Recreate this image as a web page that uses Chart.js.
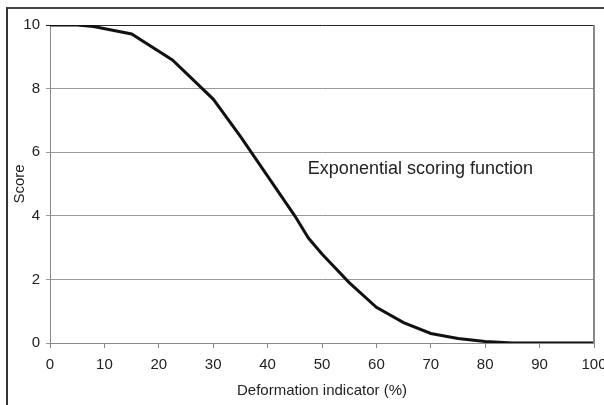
<!DOCTYPE html>
<html>
<head>
<meta charset="utf-8">
<script src="https://cdn.jsdelivr.net/npm/chart.js@4"></script>
<style>
    body { margin: 0; background: #fff; }
    #wrap { position: relative; width: 604px; height: 405px; overflow: hidden; background: #fff; }
    #frame { position: absolute; left: 6px; top: 7px; width: 700px; height: 500px;
             border-left: 2px solid #333; border-top: 2px solid #444; }
    canvas { position: absolute; left: 0; top: 0; }
</style>
</head>
<body>
<div id="wrap">
    <div id="frame"></div>
    <canvas id="chart1" width="604" height="405"></canvas>
</div>
<script>
// values
const deformation = [0, 5, 8, 15, 22.5, 30, 35, 40, 45, 47.5, 50, 55, 60, 65, 70, 75, 80, 85, 90, 95, 100];
const score = [10, 10, 9.95, 9.72, 8.9, 7.67, 6.5, 5.25, 4.0, 3.3, 2.8, 1.9, 1.12, 0.64, 0.3, 0.14, 0.05, 0, 0, 0, 0];
const xTicks = [0, 10, 20, 30, 40, 50, 60, 70, 80, 90, 100];
const yTicks = [0, 2, 4, 6, 8, 10];
const noteText = 'Exponential scoring function';

const font = "'Liberation Sans', Arial, sans-serif";

// right edge of the plot box + the text label inside the plot
const extras = {
    id: 'extras',
    afterDraw(chart) {
        const ctx = chart.ctx;
        const area = chart.chartArea;
        ctx.save();
        ctx.strokeStyle = '#888';
        ctx.lineWidth = 2;
        ctx.beginPath();
        ctx.moveTo(area.right, area.top);
        ctx.lineTo(area.right, area.bottom);
        ctx.stroke();
        ctx.fillStyle = '#222';
        ctx.font = '18px ' + font;
        ctx.textBaseline = 'alphabetic';
        ctx.fillText(noteText, chart.scales.x.getPixelForValue(47.4), chart.scales.y.getPixelForValue(5.3));
        ctx.restore();
    }
};

var ctx = document.getElementById('chart1').getContext('2d');
var myChart = new Chart(ctx, {
    type: 'line',
    data: {
        datasets: [{
            label: 'Score',
            data: deformation.map((d, i) => ({ x: d, y: score[i] })),
            borderColor: '#111',
            borderWidth: 3,
            pointRadius: 0,
            tension: 0,
            fill: false
        }]
    },
    options: {
        responsive: false,
        animation: false,
        layout: { padding: { top: 25, right: 10, left: 0, bottom: 0 } },
        plugins: { legend: { display: false }, tooltip: { enabled: false } },
        scales: {
            x: {
                type: 'linear',
                min: 0,
                max: 100,
                afterBuildTicks: scale => { scale.ticks = xTicks.map(v => ({ value: v })); },
                afterFit: scale => {
                    scale.height = 62;
                    scale.paddingLeft = 0;
                    scale.paddingRight = 0;
                },
                ticks: { color: '#222', font: { family: font, size: 15 }, padding: 8, maxRotation: 0 },
                grid: { drawOnChartArea: false, tickLength: 5, color: '#888' },
                border: { color: '#888', width: 1 },
                title: {
                    display: true,
                    text: 'Deformation indicator (%)',
                    color: '#222',
                    font: { family: font, size: 15 },
                    padding: { top: 5, bottom: 5 }
                }
            },
            y: {
                min: 0,
                max: 10,
                afterBuildTicks: scale => { scale.ticks = yTicks.map(v => ({ value: v })); },
                afterFit: scale => {
                    scale.width = 50;
                    scale.paddingTop = 0;
                    scale.paddingBottom = 0;
                },
                ticks: { color: '#222', font: { family: font, size: 15 }, padding: 6 },
                grid: {
                    tickLength: 4,
                    color: c => c.tick.value === 10 ? '#222' : '#999',
                    lineWidth: 1
                },
                border: { color: '#888', width: 1 },
                title: {
                    display: true,
                    text: 'Score',
                    color: '#222',
                    font: { family: font, size: 15 },
                    padding: { top: 11, bottom: 11 }
                }
            }
        }
    },
    plugins: [extras]
});
</script>
</body>
</html>
